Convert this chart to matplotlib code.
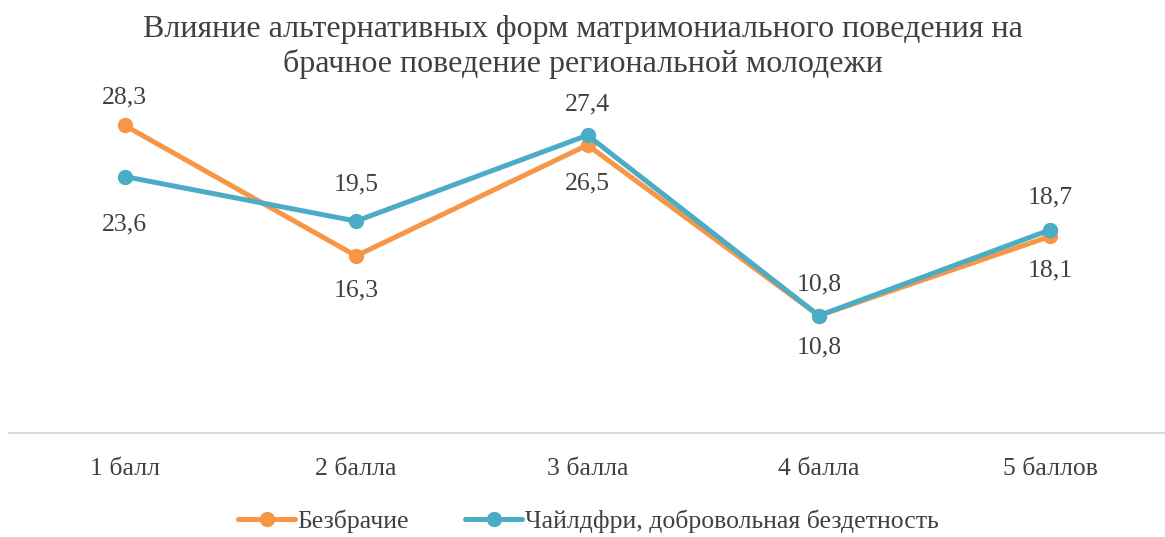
import matplotlib.pyplot as plt
import numpy as np

categories = ["1 балл", "2 балла", "3 балла", "4 балла", "5 баллов"]
bezbrachie = [28.3, 16.3, 26.5, 10.8, 18.1]
childfree = [23.6, 19.5, 27.4, 10.8, 18.7]
names = ["Безбрачие", "Чайлдфри, добровольная бездетность"]

# label offsets in pixels (positive = above the point)
off_orange = [28, -35, -38, -32, -34]
off_teal = [-48, 37, 31, 31, 32]

plt.rcParams['font.family'] = ['Liberation Serif', 'DejaVu Serif']
txt = '#404040'
orange = '#F79646'
teal = '#4BACC6'

fig = plt.figure(figsize=(11.65, 5.37), dpi=100)
ax = fig.add_axes([9 / 1165, (537 - 433) / 537, 1157 / 1165, 326 / 537])
x = np.arange(len(categories))

ax.plot(x, bezbrachie, '-', marker='o', c=orange, lw=3.6, ms=10,
        solid_capstyle='round', label=names[0])
ax.plot(x, childfree, '-', marker='o', c=teal, lw=3.6, ms=10,
        solid_capstyle='round', label=names[1])

px = 72 / 100
for i in range(len(x)):
    ax.annotate(str(bezbrachie[i]).replace('.', ','), (x[i], bezbrachie[i]),
                xytext=(0, off_orange[i] * px), textcoords='offset points',
                ha='center', va='center', fontsize=18.5, color=txt)
    ax.annotate(str(childfree[i]).replace('.', ','), (x[i], childfree[i]),
                xytext=(0, off_teal[i] * px), textcoords='offset points',
                ha='center', va='center', fontsize=18.5, color=txt)

ax.set_xlim(-0.5, 4.5)
ax.set_ylim(0, 30)
ax.set_xticks(x)
ax.set_xticklabels(categories, fontsize=18.5, color=txt)
ax.tick_params(axis='x', length=0, pad=18)
ax.set_yticks([])
for s in ['top', 'right', 'left']:
    ax.spines[s].set_visible(False)
ax.spines['bottom'].set_color('#D9D9D9')
ax.spines['bottom'].set_linewidth(1.3)

fig.suptitle("Влияние альтернативных форм матримониального поведения на\n"
             "брачное поведение региональной молодежи",
             fontsize=23, color=txt, y=0.972, va='top', linespacing=1.2)

leg = fig.legend(loc='center', bbox_to_anchor=(0.505, 1 - 521 / 537), ncol=2,
                 frameon=False, fontsize=18.5, handlelength=2.2,
                 handletextpad=0.1, columnspacing=2.2)
for t in leg.get_texts():
    t.set_color(txt)

fig.savefig('out.png', dpi=100)
